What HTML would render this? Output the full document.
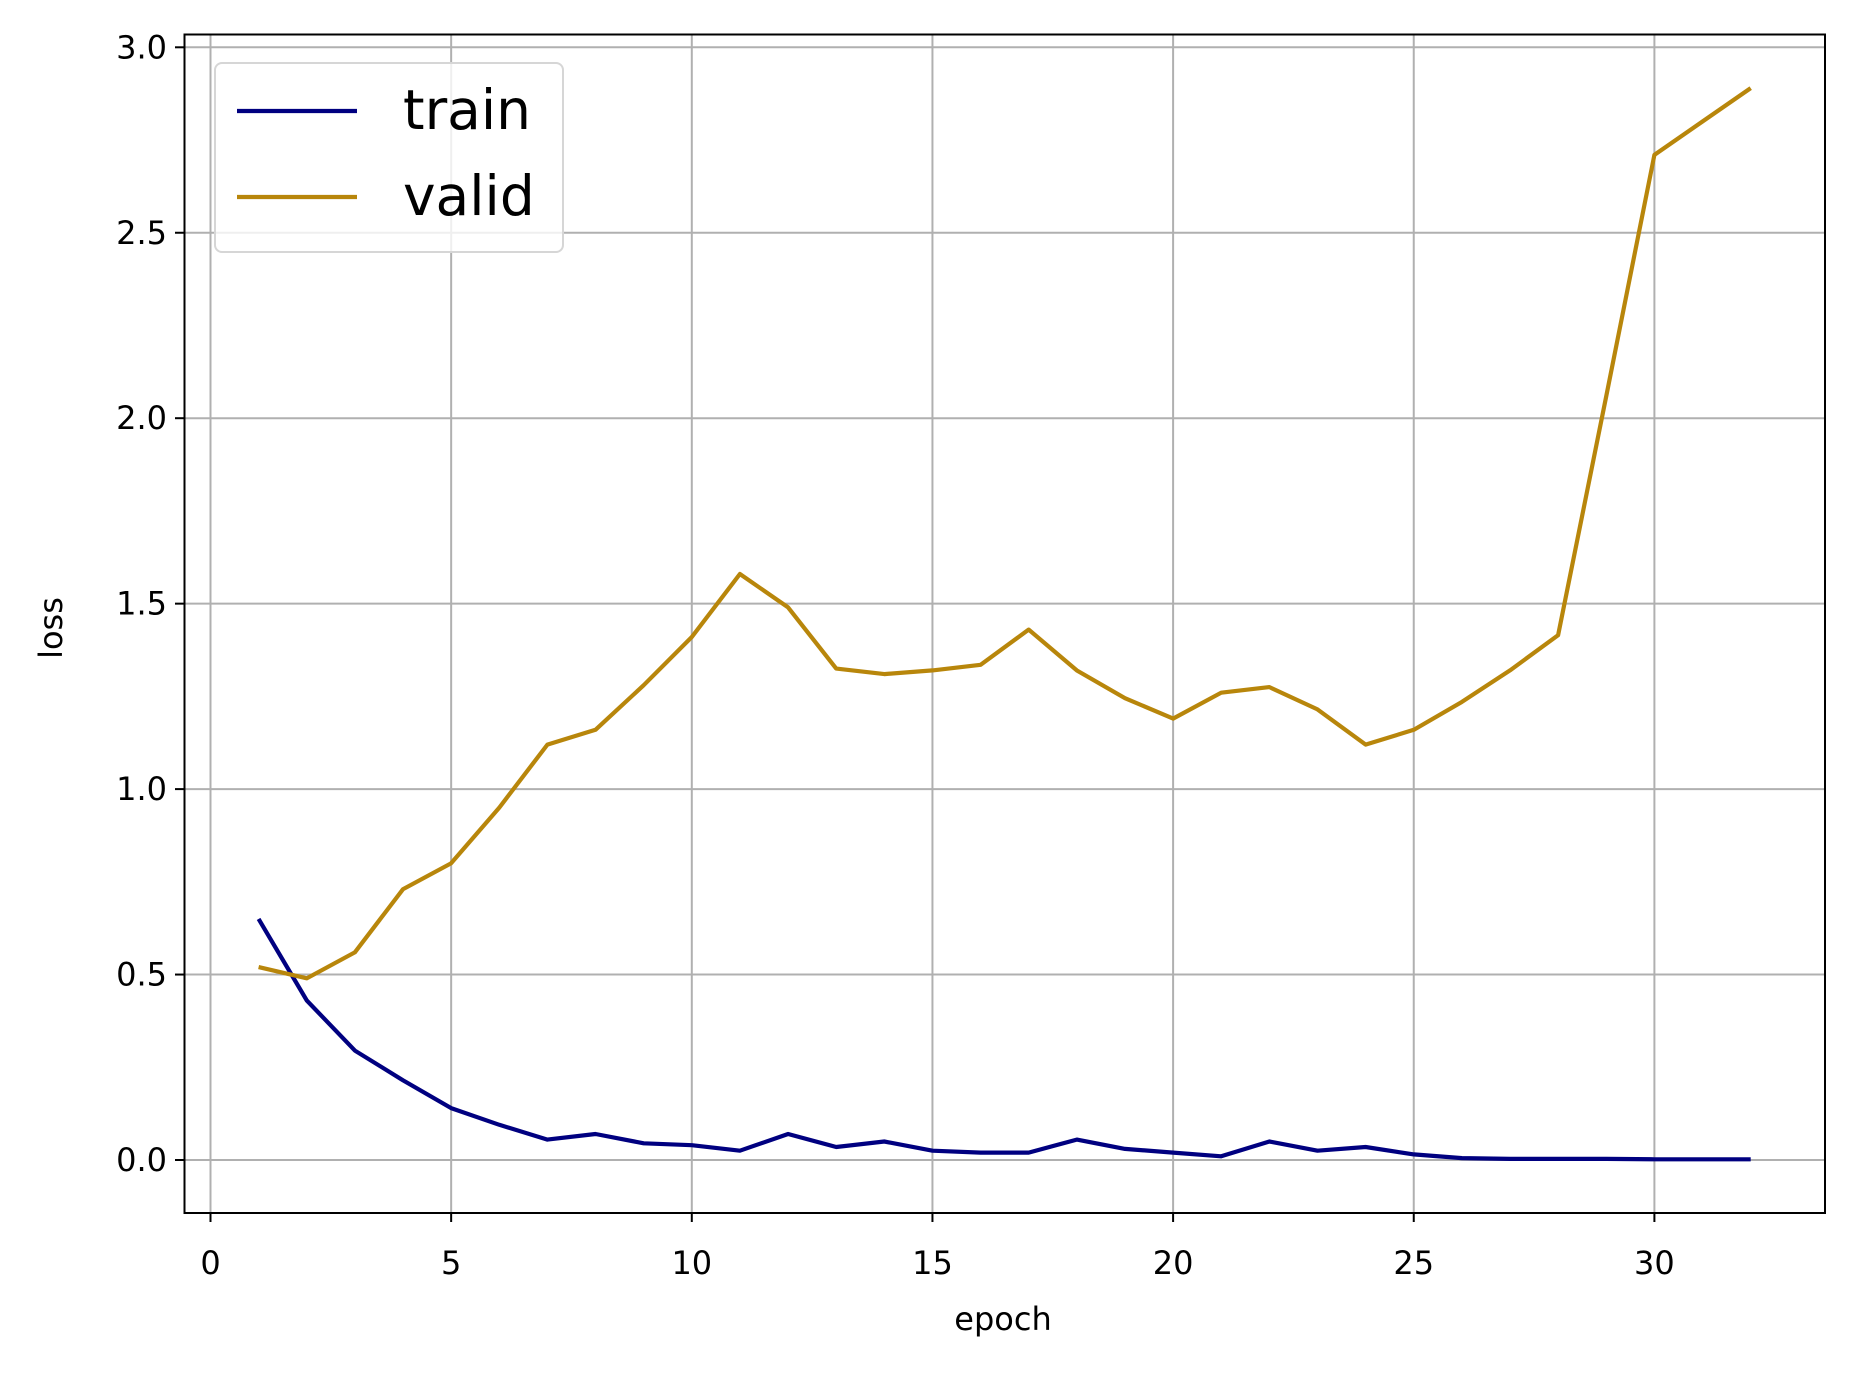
<!DOCTYPE html>
<html><head><meta charset="utf-8"><style>
html,body{margin:0;padding:0;background:#fff;}
svg{display:block;font-family:"DejaVu Sans","Liberation Sans",sans-serif;}
</style></head><body>
<svg id="chart" width="1854" height="1373" viewBox="0 0 1854 1373" xmlns="http://www.w3.org/2000/svg">
<rect width="1854" height="1373" fill="#fff"/>
<g id="grid"></g>
<g id="ticks"></g>
<g id="series"></g>
<rect x="184.5" y="34.5" width="1640.5" height="1178.5" fill="none" stroke="#000" stroke-width="2"/>
<text x="1003" y="1330" font-size="32" text-anchor="middle">epoch</text>
<text x="62" y="628" font-size="32" text-anchor="middle" transform="rotate(-90 62 628)">loss</text>
<g>
<rect x="215" y="63" width="348" height="189" rx="7" fill="#fff" fill-opacity="0.8" stroke="#d6d6d6" stroke-width="2"/>
<line x1="237" y1="111" x2="357" y2="111" stroke="#000080" stroke-width="4.2"/>
<text x="403" y="129" font-size="55">train</text>
<line x1="237" y1="197" x2="357" y2="197" stroke="#b8860b" stroke-width="4.2"/>
<text x="403" y="215" font-size="55">valid</text>
</g>
</svg>
<script>
const epochs = [1,2,3,4,5,6,7,8,9,10,11,12,13,14,15,16,17,18,19,20,21,22,23,24,25,26,27,28,29,30,31,32];
const trainLoss = [0.65,0.43,0.295,0.215,0.14,0.095,0.055,0.07,0.045,0.04,0.025,0.07,0.035,0.05,0.025,0.02,0.02,0.055,0.03,0.02,0.01,0.05,0.025,0.035,0.015,0.005,0.003,0.003,0.003,0.002,0.002,0.002];
const validLoss = [0.52,0.49,0.56,0.73,0.80,0.95,1.12,1.16,1.28,1.41,1.58,1.49,1.325,1.31,1.32,1.335,1.43,1.32,1.245,1.19,1.26,1.275,1.215,1.12,1.16,1.235,1.32,1.415,2.06,2.71,2.80,2.89];
const xTicks = [0,5,10,15,20,25,30];
const yTicks = [0.0,0.5,1.0,1.5,2.0,2.5,3.0];
const NS = "http://www.w3.org/2000/svg";
function xs(v){return 210.5 + v*48.13;}
function ys(v){return 1160 - v*370.9;}
function mk(tag, attrs, parent){const e=document.createElementNS(NS,tag);for(const k in attrs)e.setAttribute(k,attrs[k]);parent.appendChild(e);return e;}
const grid=document.getElementById('grid'), ticks=document.getElementById('ticks'), series=document.getElementById('series');
xTicks.forEach(t=>{
  const g=mk('line',{x1:xs(t),x2:xs(t),y1:34.5,y2:1213,stroke:'#b0b0b0','stroke-width':2},grid);
  
  
  const tk=mk('line',{x1:xs(t),x2:xs(t),y1:1213,y2:1222,stroke:'#000','stroke-width':2},ticks);
  
  
  const lb=mk('text',{x:xs(t),y:1274,'font-size':32,'text-anchor':'middle'},ticks);
  lb.textContent=String(t);
  
  
});
yTicks.forEach(t=>{
  const g=mk('line',{x1:184.5,x2:1825,y1:ys(t),y2:ys(t),stroke:'#b0b0b0','stroke-width':2},grid);
  
  
  const tk=mk('line',{x1:175,x2:184.5,y1:ys(t),y2:ys(t),stroke:'#000','stroke-width':2},ticks);
  
  
  const lb=mk('text',{x:167,y:ys(t)+11,'font-size':32,'text-anchor':'end'},ticks);
  lb.textContent=t.toFixed(1);
  
  
});
function line(vals,color,name){
  const pts=epochs.map((e,i)=>xs(e).toFixed(1)+','+ys(vals[i]).toFixed(1)).join(' ');
  const p=mk('polyline',{points:pts,fill:'none',stroke:color,'stroke-width':4.2,'stroke-linejoin':'round'},series);
  
  
}
line(trainLoss,'#000080','train-line');
line(validLoss,'#b8860b','valid-line');
</script>
</body></html>
